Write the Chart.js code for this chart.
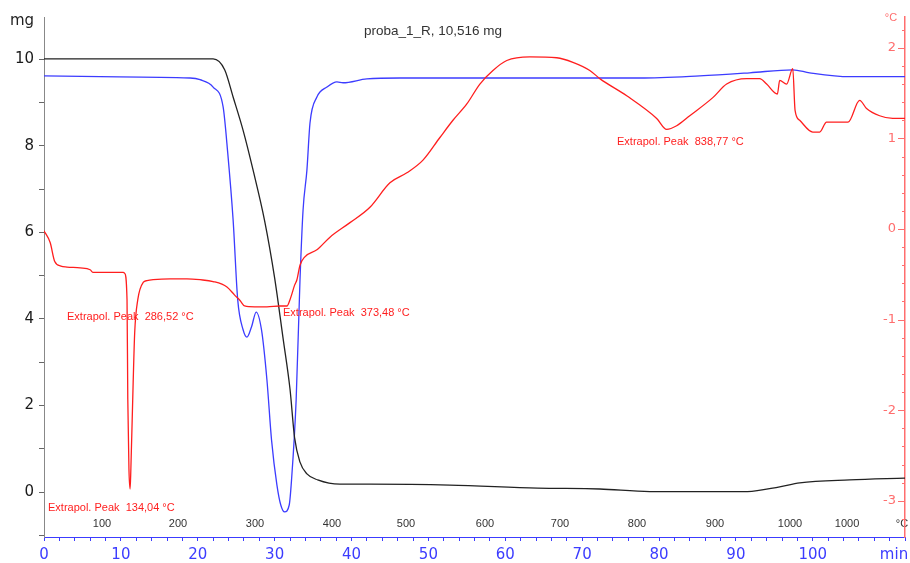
<!DOCTYPE html>
<html>
<head>
<meta charset="utf-8">
<script src="https://cdn.jsdelivr.net/npm/chart.js@4/dist/chart.umd.min.js"></script>
<style>
  html, body { margin: 0; padding: 0; background: #fff; }
  #wrap { width: 910px; height: 563px; position: relative; }
</style>
</head>
<body>
<div id="wrap"><canvas id="taChart"></canvas></div>
<script>
// TG (mg) vs time (min)
const tgTime = [0, 22.0, 23.5, 24.6, 25.9, 27.2, 28.7, 30.0, 31.1, 32.0, 32.6, 33.3, 34.2, 35.6, 38.5, 42.4, 52.8, 64.2, 72.3, 78.8, 91.5, 95.7, 98.3, 104.8, 112];
const tgMass = [10.01, 10.01, 9.76, 9.13, 8.36, 7.44, 6.27, 4.95, 3.55, 2.38, 1.25, 0.69, 0.42, 0.28, 0.18, 0.18, 0.16, 0.09, 0.07, 0.01, 0.01, 0.12, 0.21, 0.28, 0.32];

// DTG (blue), drawn on the mg axis
const dtgTime = [0, 7.3, 19.0, 20.3, 22.0, 23.3, 23.9, 24.6, 25.2, 25.9, 26.4, 27.0, 27.6, 28.3, 29.0, 29.6, 30.3, 30.8, 31.3, 31.9, 32.2, 32.8, 33.3, 33.7, 34.2, 34.6, 35.5, 36.8, 38.1, 38.9, 42.0, 46.3, 59.3, 77.5, 85.3, 91.8, 97.4, 99.6, 104.8, 112];
const dtgValue = [9.62, 9.60, 9.57, 9.53, 9.36, 8.90, 7.84, 6.29, 4.44, 3.75, 3.58, 3.82, 4.16, 3.74, 2.59, 1.20, 0.16, -0.30, -0.46, -0.30, 0.28, 2.13, 4.90, 6.52, 7.44, 8.53, 9.13, 9.36, 9.48, 9.46, 9.55, 9.57, 9.57, 9.57, 9.62, 9.69, 9.76, 9.69, 9.60, 9.60];

// DTA (red), right axis in °C
const dtaTime = [0, 0.8, 1.4, 2.2, 3.0, 4.7, 6.0, 6.4, 8.6, 10.3, 10.5, 10.8, 10.9, 11.05, 11.2, 11.3, 11.6, 11.8, 12.2, 12.9, 13.4, 14.2, 16.4, 18.6, 20.3, 22.0, 23.8, 24.8, 25.5, 26.1, 27.4, 29.0, 30.7, 31.6, 32.0, 32.2, 32.6, 32.9, 33.3, 33.9, 35.5, 37.2, 39.8, 42.4, 45.0, 47.2, 49.3, 51.5, 53.2, 55.0, 56.7, 58.4, 60.2, 63.2, 66.7, 68.8, 71.0, 72.3, 75.8, 79.7, 81.0, 82.3, 84.0, 87.0, 88.8, 91.4, 93.1, 94.0, 95.4, 95.7, 96.6, 97.4, 97.7, 98.3, 100.0, 100.9, 101.8, 104.6, 106.1, 107.0, 108.7, 110.4, 112];
const dtaValue = [-0.02, -0.15, -0.36, -0.41, -0.42, -0.43, -0.45, -0.48, -0.48, -0.48, -0.49, -0.78, -1.88, -2.65, -2.87, -2.65, -1.69, -1.14, -0.78, -0.59, -0.57, -0.56, -0.55, -0.55, -0.56, -0.58, -0.64, -0.73, -0.79, -0.85, -0.86, -0.86, -0.85, -0.85, -0.78, -0.73, -0.62, -0.56, -0.40, -0.31, -0.23, -0.09, 0.07, 0.24, 0.51, 0.62, 0.76, 1.01, 1.20, 1.38, 1.60, 1.75, 1.86, 1.90, 1.89, 1.84, 1.75, 1.66, 1.47, 1.22, 1.10, 1.14, 1.25, 1.45, 1.60, 1.66, 1.66, 1.60, 1.49, 1.64, 1.60, 1.77, 1.31, 1.20, 1.07, 1.07, 1.18, 1.18, 1.42, 1.33, 1.25, 1.22, 1.22];

// temperature row under the curves (time position -> label)
const tempTimes = [7.54, 17.43, 27.45, 37.46, 47.09, 57.37, 67.12, 77.14, 87.28, 97.04, 104.46, 111.61];
const tempLabels = ['100', '200', '300', '400', '500', '600', '700', '800', '900', '1000', '1000', '°C'];

// peak notes: text, time (left edge), °C value (text middle)
const peakText = ['Extrapol. Peak  134,04 °C', 'Extrapol. Peak  286,52 °C', 'Extrapol. Peak  373,48 °C', 'Extrapol. Peak  838,77 °C'];
const peakTime = [0.52, 2.99, 31.09, 74.54];
const peakValue = [-3.08, -0.97, -0.93, 0.96];

const titleText = 'proba_1_R, 10,516 mg';

const BLUE = 'rgb(60,60,255)';
const RED = 'rgb(255,30,30)';
const RED_AXIS = 'rgb(255,110,110)';
const MAIN_FONT = 'DejaVu Sans';
const SMALL_FONT = 'Liberation Sans';

function toPoints(xs, ys) {
    return xs.map((x, i) => ({ x, y: ys[i] }));
}

function isWhole(v) {
    return Math.abs(v - Math.round(v)) < 1e-6;
}

// extra texts and inward ticks of the red axis
const overlayPlugin = {
    id: 'overlay',
    afterDraw(chart) {
        const { ctx, scales } = chart;
        const x = scales.x;
        const y2 = scales.y2;
        ctx.save();

        ctx.strokeStyle = RED_AXIS;
        ctx.lineWidth = 1;
        y2.ticks.forEach(t => {
            const py = Math.round(y2.getPixelForValue(t.value)) + 0.5;
            const len = isWhole(t.value) ? 7 : 3;
            ctx.beginPath();
            ctx.moveTo(y2.left - len, py);
            ctx.lineTo(y2.left, py);
            ctx.stroke();
        });

        ctx.textBaseline = 'middle';
        ctx.fillStyle = RED;
        ctx.font = `11px "${SMALL_FONT}"`;
        ctx.textAlign = 'left';
        peakText.forEach((txt, i) => {
            ctx.fillText(txt, x.getPixelForValue(peakTime[i]), y2.getPixelForValue(peakValue[i]));
        });

        ctx.fillStyle = '#333';
        ctx.font = `13.5px "${SMALL_FONT}"`;
        ctx.textAlign = 'center';
        ctx.fillText(titleText, 433, 31);

        ctx.fillStyle = '#222';
        ctx.font = `15px "${MAIN_FONT}"`;
        ctx.fillText('mg', 22, 21);

        ctx.fillStyle = RED_AXIS;
        ctx.font = `11px "${SMALL_FONT}"`;
        ctx.fillText('°C', 891, 18);

        ctx.fillStyle = BLUE;
        ctx.font = `15px "${MAIN_FONT}"`;
        ctx.fillText('min', 894, 555);

        ctx.restore();
    }
};

const ctx = document.getElementById('taChart');

new Chart(ctx, {
    type: 'line',
    data: {
        datasets: [
            {
                label: 'DTG',
                data: toPoints(dtgTime, dtgValue),
                borderColor: BLUE,
                borderWidth: 1.3,
                yAxisID: 'y',
                order: 3
            },
            {
                label: 'TG',
                data: toPoints(tgTime, tgMass),
                borderColor: '#222',
                borderWidth: 1.3,
                yAxisID: 'y',
                order: 2
            },
            {
                label: 'DTA',
                data: toPoints(dtaTime, dtaValue),
                borderColor: RED,
                borderWidth: 1.3,
                yAxisID: 'y2',
                order: 1
            }
        ]
    },
    options: {
        responsive: true,
        maintainAspectRatio: false,
        animation: false,
        layout: { padding: { top: 17, left: 0, right: 0, bottom: 0 } },
        elements: {
            point: { radius: 0 },
            line: { cubicInterpolationMode: 'monotone', fill: false }
        },
        plugins: {
            legend: { display: false },
            tooltip: { enabled: false }
        },
        scales: {
            x: {
                type: 'linear',
                position: 'bottom',
                min: 0,
                max: 112,
                afterFit: s => { s.height = 26; },
                border: { color: BLUE, width: 1 },
                grid: { drawOnChartArea: false, color: BLUE, tickLength: 4 },
                ticks: {
                    stepSize: 2,
                    autoSkip: false,
                    maxRotation: 0,
                    padding: 5,
                    color: BLUE,
                    font: { family: MAIN_FONT, size: 15 },
                    callback: v => (v % 10 === 0 && v < 110 ? v : '')
                }
            },
            x2: {
                type: 'linear',
                position: { y: -0.578 },
                min: 0,
                max: 112,
                border: { display: false },
                grid: { drawOnChartArea: false, drawTicks: false },
                afterBuildTicks: s => { s.ticks = tempTimes.map(v => ({ value: v })); },
                ticks: {
                    autoSkip: false,
                    maxRotation: 0,
                    padding: 0,
                    color: '#333',
                    font: { family: SMALL_FONT, size: 11 },
                    callback: (v, i) => tempLabels[i]
                }
            },
            y: {
                position: 'left',
                min: -1.04,
                max: 10.98,
                afterFit: s => { s.width = 44; },
                border: { color: '#888', width: 1 },
                grid: { drawOnChartArea: false, color: '#666', tickLength: 5 },
                ticks: {
                    stepSize: 1,
                    includeBounds: false,
                    padding: 5,
                    color: '#1a1a1a',
                    font: { family: MAIN_FONT, size: 15 },
                    callback: v => (isWhole(v) && Math.round(v) % 2 === 0 ? Math.round(v) : '')
                }
            },
            y2: {
                position: 'right',
                min: -3.40,
                max: 2.34,
                afterFit: s => { s.width = 5; },
                border: { color: RED_AXIS, width: 1.5 },
                grid: { drawOnChartArea: false, drawTicks: false },
                ticks: {
                    stepSize: 0.2,
                    includeBounds: false,
                    mirror: true,
                    padding: -9,
                    color: RED_AXIS,
                    font: { family: MAIN_FONT, size: 13 },
                    callback: v => (isWhole(v) ? Math.round(v) : '')
                }
            }
        }
    },
    plugins: [overlayPlugin]
});
</script>
</body>
</html>
